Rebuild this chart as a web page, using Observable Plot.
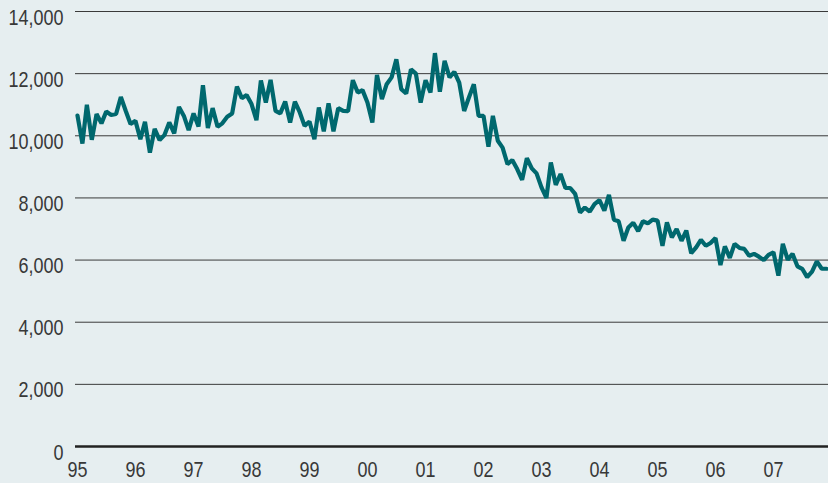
<!DOCTYPE html>
<html>
<head>
<meta charset="utf-8">
<script src="https://cdn.jsdelivr.net/npm/d3@7"></script>
<script src="https://cdn.jsdelivr.net/npm/@observablehq/plot@0.6"></script>
<style>
  html, body { margin: 0; padding: 0; background: #e6eef0; }
  #chart svg { display: block; }
</style>
</head>
<body>
<div id="chart"></div>
<script>
// Monthly series, January 1995 to December 2007
const startYear = 1995;
const values = [
  10650, 9750, 11000, 9870, 10700, 10400, 10780, 10670, 10700, 11250, 10800, 10380,
  10480, 9890, 10450, 9460, 10220, 9860, 10020, 10430, 10080, 10930, 10640, 10180,
  10720, 10300, 11630, 10250, 10890, 10290, 10400, 10610, 10720, 11580, 11210, 11310,
  11020, 10500, 11780, 11070, 11800, 10800, 10720, 11100, 10430, 11100, 10750, 10320,
  10460, 9890, 10910, 10140, 11040, 10140, 10890, 10800, 10790, 11790, 11390, 11470,
  11070, 10430, 11960, 11180, 11660, 11880, 12460, 11500, 11360, 12140, 12000, 11070,
  11790, 11390, 12660, 11420, 12410, 11880, 12060, 11710, 10800, 11230, 11660, 10640,
  10640, 9650, 10640, 9840, 9620, 9090, 9220, 8930, 8580, 9280, 8950, 8790,
  8340, 8000, 9140, 8420, 8770, 8320, 8320, 8130, 7530, 7690, 7560, 7800,
  7930, 7590, 8100, 7300, 7250, 6620, 7050, 7200, 6930, 7250, 7180, 7300,
  7270, 6460, 7210, 6730, 7000, 6620, 6950, 6220, 6410, 6650, 6460, 6550,
  6710, 5840, 6440, 6070, 6520, 6390, 6360, 6140, 6200, 6110, 6000, 6170,
  6250, 5500, 6520, 6010, 6200, 5800, 5720, 5450, 5630, 5960, 5720, 5720
];
const xTickYears = [1995, 1996, 1997, 1998, 1999, 2000, 2001, 2002, 2003, 2004, 2005, 2006, 2007];
const xTickLabels = ["95", "96", "97", "98", "99", "00", "01", "02", "03", "04", "05", "06", "07"];
const yTicks = [0, 2000, 4000, 6000, 8000, 10000, 12000, 14000];

const data = values.map((v, i) => ({
  date: new Date(startYear + Math.floor(i / 12), i % 12, 1),
  value: v
}));
const xTickDates = xTickYears.map(y => new Date(y, 0, 1));
const labelFor = new Map(xTickDates.map((d, i) => [+d, xTickLabels[i]]));

const font = "'Liberation Sans', Arial, sans-serif";

const chart = Plot.plot({
  width: 828,
  height: 483,
  marginLeft: 75,
  marginRight: 0,
  marginTop: 11,
  marginBottom: 37,
  style: { background: "#e6eef0", fontFamily: font, fontSize: "22px", color: "#383838" },
  x: {
    type: "time",
    domain: [new Date(1995, 0, 1), new Date(2007, 11, 1)],
    range: [77, 826]
  },
  y: { domain: [0, 14000] },
  marks: [
    Plot.ruleY(yTicks.filter(d => d > 0), { stroke: "#3a3a3a", strokeWidth: 1 }),
    Plot.ruleY([0], { stroke: "#222", strokeWidth: 2.5 }),
    Plot.axisY({
      ticks: yTicks,
      tickSize: 0,
      tickPadding: 12,
      dy: 6,
      tickFormat: d3.format(","),
      fill: "#383838",
      fontSize: 22,
      label: null
    }),
    Plot.axisX({
      ticks: xTickDates,
      tickSize: 0,
      tickPadding: 15,
      tickFormat: d => labelFor.get(+d),
      fill: "#383838",
      fontSize: 22,
      label: null
    }),
    Plot.line(data, {
      x: "date",
      y: "value",
      stroke: "#00686e",
      strokeWidth: 4.2,
      strokeLinejoin: "miter"
    })
  ]
});
// condense the text horizontally to match the narrow typeface of the original
d3.select(chart).selectAll("text").each(function () {
  const s = this.textContent;
  if (!s) return;
  const len = [...s].reduce((a, c) => a + (c === "," ? 5 : 10), 0);
  this.setAttribute("textLength", len);
  this.setAttribute("lengthAdjust", "spacingAndGlyphs");
});
document.getElementById("chart").append(chart);
</script>
</body>
</html>
